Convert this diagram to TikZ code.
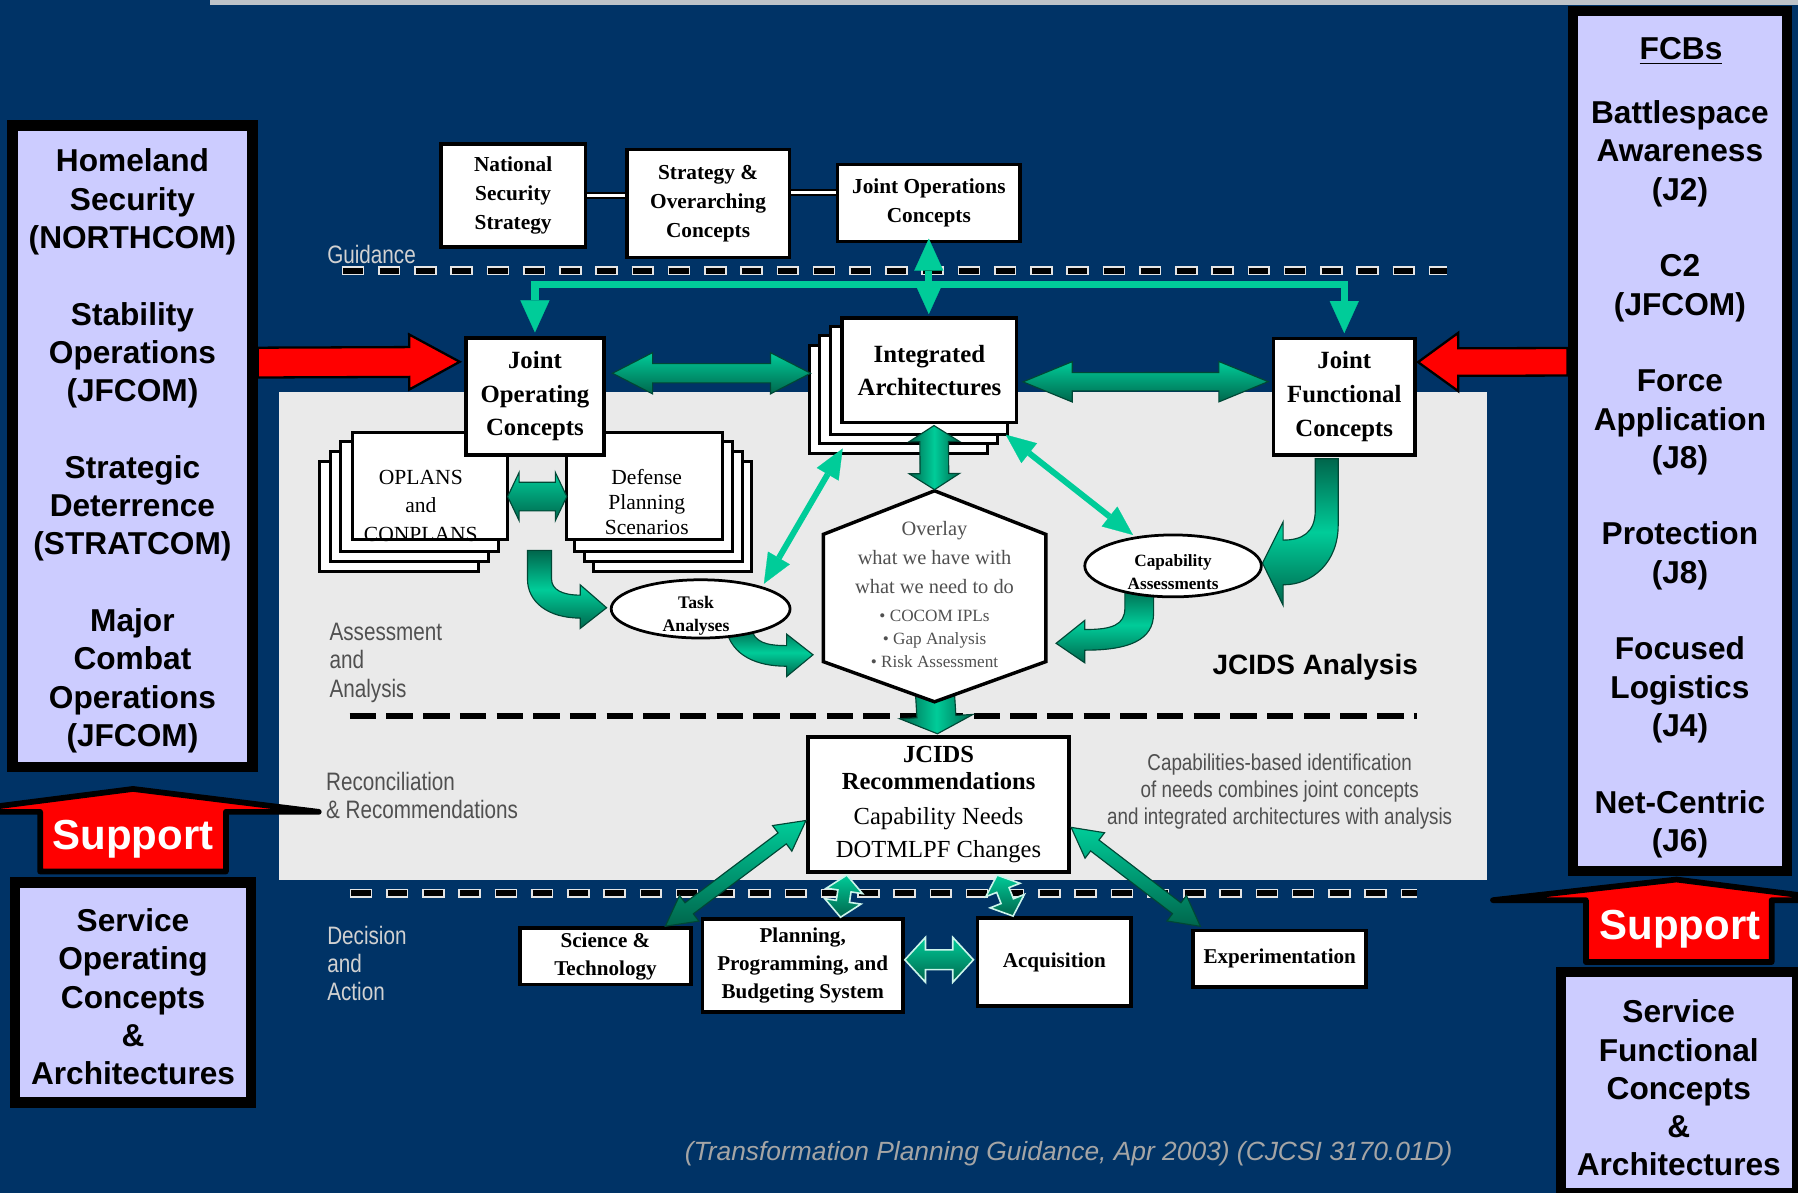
\documentclass[tikz,border=0pt]{standalone}
\usepackage{fontspec}
\setmainfont{Liberation Serif}
\setsansfont{Liberation Sans}
\newfontfamily\narrowsans{Liberation Sans}[FakeStretch=0.82]
\usetikzlibrary{calc,shapes.geometric,arrows.meta}

\definecolor{navy}{RGB}{0,51,102}
\definecolor{lav}{RGB}{204,204,255}
\definecolor{tealL}{RGB}{0,204,153}
\definecolor{tealD}{RGB}{0,102,76}
\definecolor{panelgray}{RGB}{234,234,234}
\definecolor{txtgray}{RGB}{80,80,80}
\definecolor{ftgray}{RGB}{165,165,165}
\definecolor{topgray}{RGB}{190,195,200}

\newcommand\fs[2]{\fontsize{#1}{#2}\selectfont}

% position and direction of a straight block arrow between two points
\newcommand\arrowframe[2]{%
  \path (#1) coordinate (afA) (#2) coordinate (afB);%
  \pgfpointanchor{afA}{center}\pgfgetlastxy{\afxa}{\afya}%
  \pgfpointanchor{afB}{center}\pgfgetlastxy{\afxb}{\afyb}%
  \pgfmathsetmacro\afa{atan2(\afyb-\afya,\afxb-\afxa)}%
  \pgfmathsetmacro\afl{veclen(\afxb-\afxa,\afyb-\afya)}}
% [style]{from}{to}{shaft half width}{head half width}{head length}
\newcommand\blockdouble[6][]{%
  \arrowframe{#2}{#3}%
  \path[#1,shift={(\afxa,\afya)},rotate=\afa]
    (0pt,0pt) -- (#6,#5) -- (#6,#4) -- (\afl pt-#6,#4) -- (\afl pt-#6,#5)
    -- (\afl pt+0pt,0pt) -- (\afl pt-#6,-#5) -- (\afl pt-#6,-#4) -- (#6,-#4) -- (#6,-#5) -- cycle;}
\newcommand\blocksingle[6][]{%
  \arrowframe{#2}{#3}%
  \path[#1,shift={(\afxa,\afya)},rotate=\afa]
    (0pt,#4) -- (\afl pt-#6,#4) -- (\afl pt-#6,#5) -- (\afl pt+0pt,0pt)
    -- (\afl pt-#6,-#5) -- (\afl pt-#6,-#4) -- (0pt,-#4) -- cycle;}

\tikzset{
  gtip/.tip={Triangle[width=12.7pt,length=14pt,line width=0.1pt]},
  ttip/.tip={Triangle[width=11pt,length=13pt,line width=0.1pt]},
  panelbox/.style={draw=black, line width=4.5pt, fill=lav, inner sep=0pt},
  paneltext/.style={font=\sffamily\bfseries\fs{13.8pt}{16.7pt}, align=center, inner sep=0pt},
  supportarrow/.style={fill=red, draw=black, line width=2.5pt, line join=round},
  supporttext/.style={font=\sffamily\bfseries\fs{18.3pt}{20pt}, text=white, inner sep=0pt},
  redarrow/.style={fill=red, draw=black, line width=1pt},
  wbox/.style={draw=black, line width=1.6pt, fill=white, inner sep=0pt, align=center},
  sheet/.style={draw=black, line width=1.3pt, fill=white},
  sheetfront/.style={draw=black, line width=1.3pt, fill=white, inner sep=0pt, outer sep=0pt},
  stacktext/.style={font=\fs{9.4pt}{12.5pt}, align=center, inner sep=0pt},
  tsmall/.style={font=\bfseries\fs{9.3pt}{12.5pt}},
  tbig/.style={font=\bfseries\fs{10.8pt}{14.75pt}},
  tbot/.style={font=\bfseries\fs{9.2pt}{12.3pt}},
  ell/.style={ellipse, draw=black, line width=1.2pt, fill=white, inner sep=0pt, outer sep=0pt},
  elltext/.style={font=\bfseries\fs{7.6pt}{10pt}, align=center, inner sep=0pt},
  link/.style={draw=black, line width=0.9pt, double=white, double distance=1.2pt},
  guide/.style={draw=tealL, line width=3.2pt},
  thinarrow/.style={draw=tealL, line width=2.6pt, ttip-ttip},
  g1/.style={top color=tealL, bottom color=tealD, draw=tealD!70!black, line width=0.5pt},
  g1w/.style={top color=tealL, bottom color=tealD, draw=white!80!tealL, line width=0.7pt},
  g2/.style={left color=tealD, right color=tealD, middle color=tealL, draw=tealD!70!black, line width=0.5pt},
  gcurve/.style={top color=tealD, bottom color=tealD, middle color=tealL, draw=tealD!70!black, line width=0.5pt},
  dashW/.style={draw=white!80!gray, line width=3.8pt, dash pattern=on 9.8pt off 6pt},
  dashB/.style={draw=black, line width=2.6pt, dash pattern=on 8.4pt off 7.4pt},
  dashM/.style={draw=black, line width=2.6pt, dash pattern=on 11.5pt off 4.5pt},
  phaselbl/.style={font=\narrowsans\fs{11pt}{12.3pt}, align=left, inner sep=0pt, text=white!82!black},
  phaselbldark/.style={phaselbl, text=txtgray},
}

\begin{document}
\begin{tikzpicture}[x=0.5pt,y=-0.5pt]
\useasboundingbox (0,0) rectangle (1568,1040);
\clip (0,0) rectangle (1568,1040);

% backdrop and analysis panel
\fill[navy] (0,0) rectangle (1568,1040);
\fill[topgray] (183,0) rectangle (1568,4);
\fill[panelgray] (243,342) rectangle (1297,767);

% phase separators
\draw[dashW] (298,236) -- (1262,236);
\draw[dashB] (299.4,236) -- (1262,236);
\draw[dashM] (305,624) -- (1236,624);
\draw[dashW] (305,779) -- (1236,779);
\draw[dashB] (306.4,779) -- (1236,779);

% phase labels
\node[phaselbl, anchor=west] (lblguid) at (285,222) {Guidance};
\node[phaselbldark, anchor=west] (lblassess) at (287,578) {Assessment\\and\\Analysis};
\node[phaselbldark, anchor=west] (lblrecon) at (284,694) {Reconciliation\\\& Recommendations};
\node[phaselbl, anchor=west] (lbldecide) at (285,840) {Decision\\and\\Action};

% left column
\node[panelbox, minimum width=104.7pt, minimum height=279.7pt] (lp) at (115.5,389.2) {};
\node[paneltext] (lptxt) at (115.5,393.3) {Homeland\\Security\\(NORTHCOM)\\[16.7pt]Stability\\Operations\\(JFCOM)\\[16.7pt]Strategic\\Deterrence\\(STRATCOM)\\[16.7pt]Major\\Combat\\Operations\\(JFCOM)};
\node[panelbox, minimum width=102.7pt, minimum height=96pt] (sbl) at (115.9,865.5) {};
\node[paneltext] (sbltxt) at (116,869.3) {Service\\Operating\\Concepts\\\&\\Architectures};
\path[supportarrow] (-40,708) -- (116,688) -- (278,708) -- (197,708) -- (197,760) -- (35,760) -- (35,708) -- cycle;
\node[supporttext, anchor=base] (supL) at (116,741) {Support};

% right column
\node[panelbox, minimum width=93.5pt, minimum height=375pt] (rp) at (1465,384.5) {};
\node[paneltext, anchor=base] (fcbs) at (1466,52) {\underline{FCBs}};
\node[paneltext] (rptxt) at (1465,418) {Battlespace\\Awareness\\(J2)\\[16.7pt]C2\\(JFCOM)\\[16.7pt]Force\\Application\\(J8)\\[16.7pt]Protection\\(J8)\\[16.7pt]Focused\\Logistics\\(J4)\\[16.7pt]Net-Centric\\(J6)};
\node[panelbox, minimum width=103pt, minimum height=96.5pt] (sbr) at (1464.5,944) {};
\node[paneltext] (sbrtxt) at (1464,948.8) {Service\\Functional\\Concepts\\\&\\Architectures};
\path[supportarrow] (1302,785) -- (1462,767) -- (1604,785) -- (1545,785) -- (1545,839) -- (1383,839) -- (1383,785) -- cycle;
\node[supporttext, anchor=base] (supR) at (1465,819) {Support};

% guidance documents
\node[wbox, minimum width=63pt, minimum height=45pt, tsmall] (nss) at (447.5,170.5) {National\\Security\\Strategy};
\node[wbox, minimum width=71pt, minimum height=47pt, tsmall] (soc) at (617.5,177.5) {Strategy \&\\Overarching\\Concepts};
\node[wbox, minimum width=79.5pt, minimum height=33.5pt, tsmall] (joc) at (810,177) {Joint Operations\\Concepts};
\coordinate (c2) at ($(joc.west)+(0,-9)$);
\draw[link] (nss.east) -- (nss.east -| soc.west);
\draw[link] (c2) -- (c2 -| soc.east);

% OPLANS stack
\foreach \k in {3,2,1} \draw[sheet] (306-9*\k,376+8.7*\k) rectangle (444-9*\k,472+8.7*\k);
\node[sheetfront, minimum width=67.7pt, minimum height=46.7pt] (oplans) at (375,424) {};
\node[stacktext] (oplanstxt) at (367,441) {OPLANS\\and\\CONPLANS};
\draw[black, line width=1.3pt] (oplans.south west) -- (oplans.south east);

% Defense planning scenarios stack
\foreach \k in {3,2,1} \draw[sheet] (493+8.2*\k,376+8.7*\k) rectangle (631+8.2*\k,472+8.7*\k);
\node[sheetfront, minimum width=67.7pt, minimum height=46.7pt] (dps) at (562,424) {};
\node[stacktext, font=\fs{9.4pt}{11pt}] (dpstxt) at (564,438) {Defense\\Planning\\Scenarios};

% integrated architectures stack
\foreach \k in {3,2,1} \draw[sheet] (733-9*\k,276+8.5*\k) rectangle (888-9*\k,370+8.5*\k);
\node[wbox, minimum width=76pt, minimum height=45.5pt, font=\bfseries\fs{10.8pt}{14.5pt}] (ia) at (810.5,323) {Integrated\\Architectures};

% joint concepts
\node[wbox, minimum width=60pt, minimum height=51pt, tbig] (jopc) at (466.5,345.5) {Joint\\Operating\\Concepts};
\node[wbox, minimum width=61.75pt, minimum height=50.7pt, tbig] (jfc) at (1172.3,345.8) {Joint\\Functional\\Concepts};

% command inputs
\blocksingle[redarrow]{$(lp.east)+(0,-73)$}{$(jopc.west)+(-4,-30)$}{6.5pt}{12pt}{22pt}
\blocksingle[redarrow]{$(rp.west)+(0,-69)$}{$(jfc.east)+(1,-30)$}{6pt}{12.7pt}{17.5pt}

% guidance flow
\draw[guide, gtip-gtip] ($(jopc.north)+(0,-3)$) -- ++(0,-42) -| ($(jfc.north)+(0,-3)$);
\draw[guide, gtip-gtip] ($(joc.south)+(0,-4)$) -- ($(ia.north)+(-0.5,-2)$);

% exchanges between concepts and architectures
\blockdouble[g1]{$(jopc.east)+(6,-20)$}{$(ia.west)+(-26,2.5)$}{4.2pt}{9pt}{17.5pt}
\blockdouble[g1]{$(ia.east)+(4,10)$}{$(jfc.west)+(-3,-13)$}{4pt}{8.8pt}{21.5pt}
\blockdouble[g1]{$(oplans.east)+(0,9)$}{$(dps.west)+(0,9)$}{6.25pt}{10.5pt}{5pt}

% overlay hexagon corners
\coordinate (hT) at (815,428);
\coordinate (hUR) at (912,466);
\coordinate (hLR) at (912,577);
\coordinate (hB) at (815,612);
\coordinate (hLL) at (718,577);
\coordinate (hUL) at (718,466);

% analysis flow
\node[wbox, minimum width=114pt, minimum height=59pt, font=\fs{10.7pt}{12pt}] (jcids) at (818.5,701.5) {\textbf{JCIDS}\\\textbf{Recommendations}\\[3pt]Capability Needs\\[2.5pt]DOTMLPF Changes};
\blocksingle[g2]{$(hB)+(0,-14)$}{$(jcids.north)+(-1,-1)$}{8.5pt}{16pt}{7.5pt}

\path[gcurve] (460,480) -- (481,480) -- (481,505) .. controls (481,514) and (490,519) .. (506,519) -- (506,510) -- (529,530) -- (506,548) -- (506,539) .. controls (478,539) and (460,525) .. (460,505) -- cycle;
\path[gcurve] (633,548) -- (655,548) .. controls (658,560) and (668,563) .. (686,563) -- (686,553) -- (709,571) -- (686,590) -- (686,581) .. controls (660,581) and (638,572) .. (633,548) -- cycle;
\path[gcurve] (1147,400) -- (1167,400) -- (1167,458) .. controls (1167,490) and (1145,510) .. (1119,510) -- (1119,528) -- (1101,491) -- (1119,455) -- (1119,471) .. controls (1135,471) and (1147,465) .. (1147,445) -- cycle;
\path[gcurve] (981,512) -- (1006,512) -- (1006,535) .. controls (1006,558) and (985,567) .. (946,567) -- (946,578) -- (921,561) -- (946,541) -- (946,549) .. controls (970,549) and (981,545) .. (981,530) -- cycle;

\draw[fill=white, line width=1.5pt, line join=miter] (hT) -- (hUR) -- (hLR) -- (hB) -- (hLL) -- (hUL) -- cycle;
\node[font=\fs{8.9pt}{12.7pt}, text=txtgray, align=center, inner sep=0pt] (ovl) at (815,486.5) {Overlay\\what we have with\\what we need to do};
\node[font=\fs{7.5pt}{10pt}, text=txtgray, align=center, inner sep=0pt] (ovlb) at (815,557) {• COCOM IPLs\\• Gap Analysis\\• Risk Assessment};

\node[ell, minimum width=78pt, minimum height=25.4pt] (task) at (611,531) {};
\node[elltext, font=\bfseries\fs{7.7pt}{10pt}] (tasktxt) at (607,537) {Task\\Analyses};
\node[ell, minimum width=77pt, minimum height=27pt] (capa) at (1023,493.5) {};
\node[elltext, font=\bfseries\fs{7.5pt}{10pt}] (capatxt) at (1023,499) {Capability\\Assessments};

\draw[thinarrow] ($(ia.south west)+(2,21)$) -- ($(task.north east)+(0,-4)$);
\draw[thinarrow] ($(ia.south east)+(-11,9)$) -- ($(capa.north)+(-35,0)$);
\blockdouble[g2]{$(ia.south)+(4,1)$}{$(hT)+(0,-1)$}{6.25pt}{11pt}{7pt}

% decision and action
\node[wbox, minimum width=74.5pt, minimum height=24.5pt, tbot] (st) at (528,834) {Science \&\\Technology};
\node[wbox, minimum width=87.5pt, minimum height=40.5pt, tbot] (ppbs) at (700,842) {Planning,\\Programming, and\\Budgeting System};
\node[wbox, minimum width=67pt, minimum height=38.5pt, tbot] (acq) at (919.5,839) {Acquisition};
\node[wbox, minimum width=75.5pt, minimum height=24.5pt, tbot] (exp) at (1116,836) {Experimentation};

\blockdouble[g1]{$(jcids.west)+(0,14)$}{$(st.north)+(52,0)$}{3pt}{7pt}{13pt}
\blockdouble[g1]{$(jcids.east)+(0,20)$}{$(exp.north west)+(8,-2)$}{3pt}{7pt}{13pt}
\blockdouble[g1w]{$(jcids.south)+(-80,1)$}{$(ppbs.north)+(33,0)$}{2.9pt}{8pt}{7pt}
\blockdouble[g1w]{$(jcids.south)+(51,1)$}{$(acq.north)+(-36,0)$}{2.9pt}{8pt}{7pt}
\blockdouble[g1w]{$(ppbs.east)+(0,-5)$}{$(acq.west)+(-2,-2)$}{4.3pt}{9.8pt}{9pt}

% annotations
\node[font=\sffamily\bfseries\fs{12.2pt}{14pt}, inner sep=0pt] (jcidsan) at (1147,582) {JCIDS Analysis};
\node[font=\narrowsans\fs{10pt}{11.75pt}, text=txtgray, align=center, inner sep=0pt] (capnote) at (1116,690) {Capabilities-based identification\\of needs combines joint concepts\\and integrated architectures with analysis};
\node[font=\sffamily\itshape\fs{11.5pt}{13pt}, text=ftgray, inner sep=0pt] (source) at (932,1006) {(Transformation Planning Guidance, Apr 2003) (CJCSI 3170.01D)};

\end{tikzpicture}
\end{document}
